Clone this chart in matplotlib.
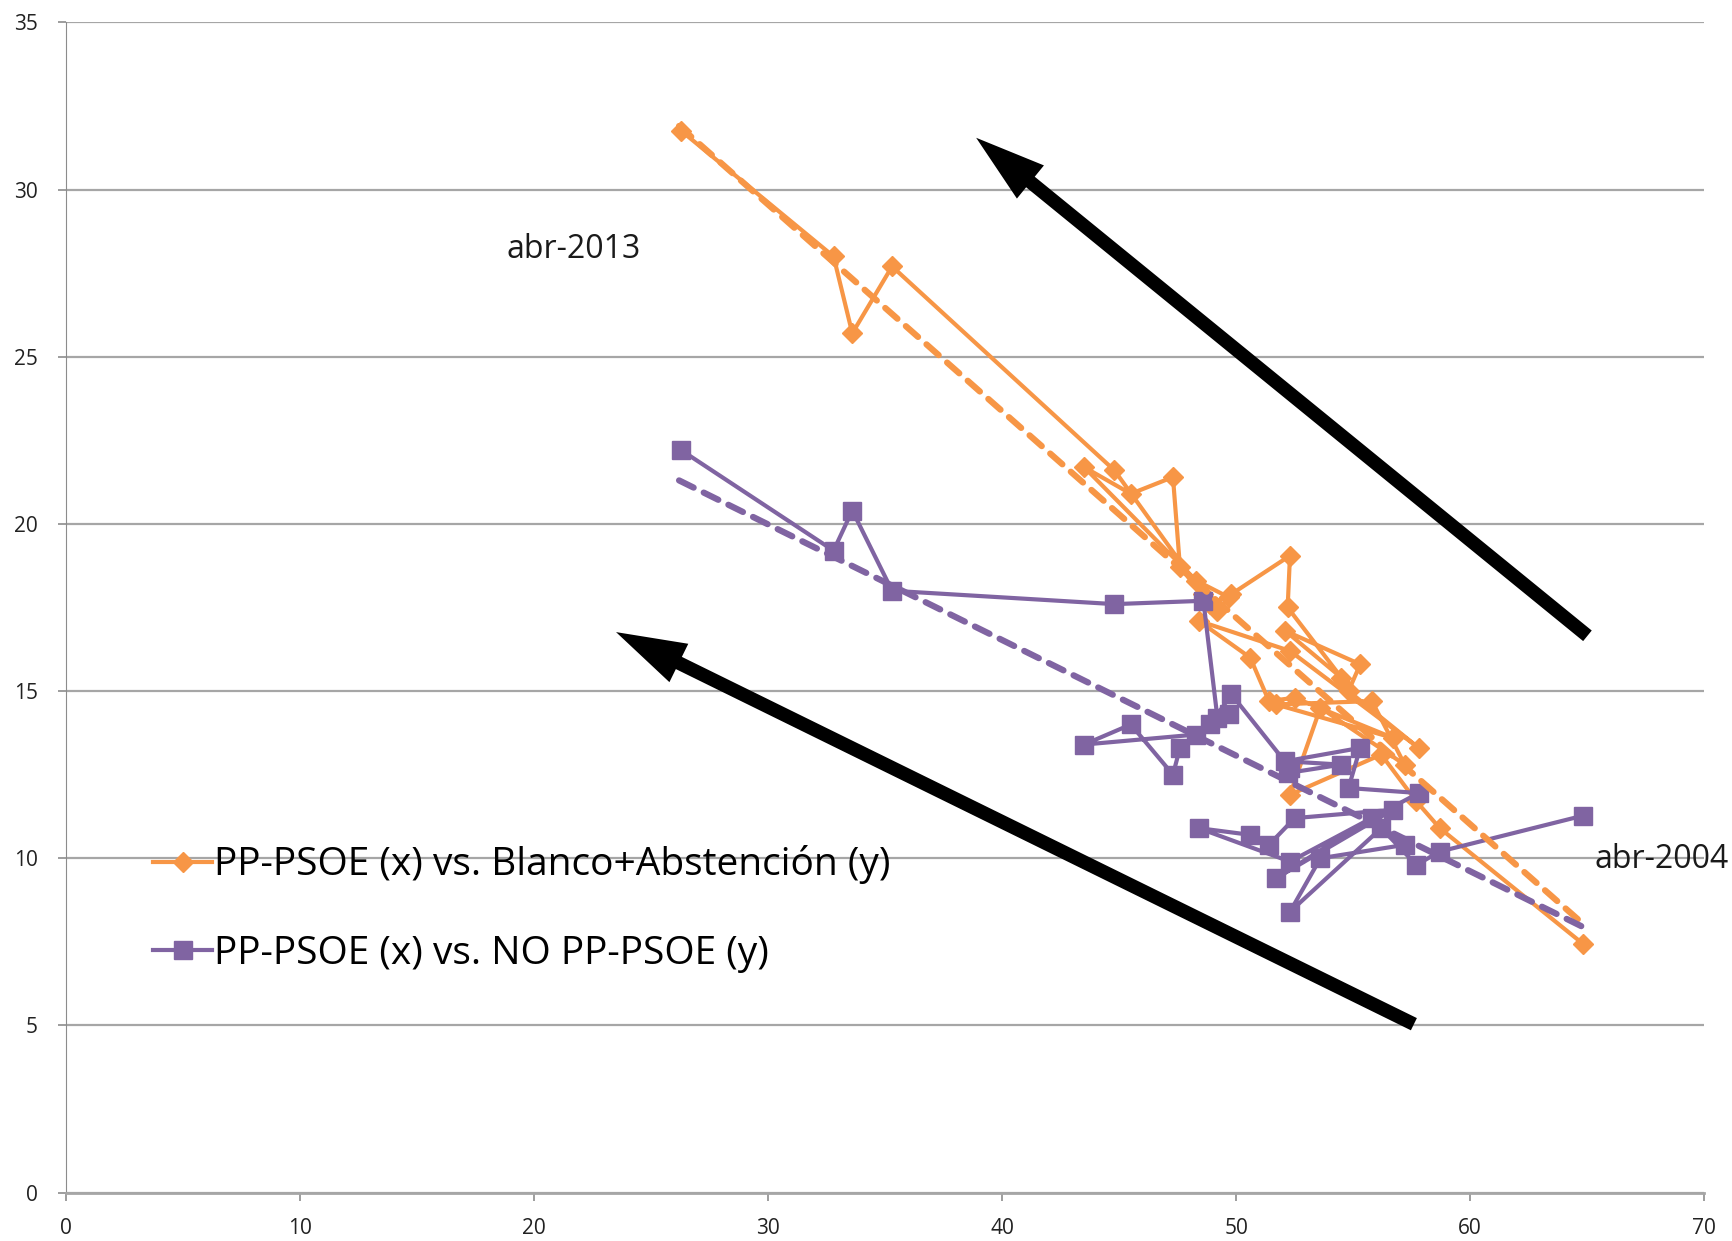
import numpy as np
import matplotlib.pyplot as plt
from matplotlib.patches import FancyArrowPatch

# quarterly polls, abr-2004 ... abr-2013
pp_psoe = [64.8, 58.7, 57.7, 56.2, 52.3, 53.6, 57.2, 55.8, 51.7, 56.7,
           52.5, 51.4, 50.6, 48.4, 52.3, 57.8, 54.8, 55.3, 52.1, 54.5,
           52.2, 52.3, 49.8, 48.9, 47.6, 47.3, 45.5, 43.5, 48.3, 49.7,
           49.2, 48.6, 44.8, 35.3, 33.6, 32.8, 26.3]
blanco_abst = [7.45, 10.9, 11.7, 13.1, 11.9, 14.5, 12.8, 14.7, 14.6, 13.6,
               14.8, 14.7, 16.0, 17.1, 16.2, 13.3, 15.0, 15.8, 16.8, 15.4,
               17.5, 19.05, 17.9, 17.6, 18.7, 21.4, 20.9, 21.7, 18.3, 17.8,
               17.4, 17.9, 21.6, 27.7, 25.7, 28.0, 31.75]
no_pp_psoe = [11.27, 10.2, 9.8, 10.9, 8.4, 10.0, 10.4, 11.2, 9.4, 11.45,
              11.2, 10.4, 10.7, 10.9, 9.9, 11.95, 12.1, 13.3, 12.9, 12.8,
              12.55, 12.7, 14.9, 14.0, 13.3, 12.5, 14.0, 13.4, 13.7, 14.3,
              14.2, 17.7, 17.6, 18.0, 20.4, 19.2, 22.2]

# linear trend lines (end points)
trend_x = [26.2, 64.8]
trend_orange = [31.9, 8.05]
trend_purple = [21.3, 7.95]

# arrows (tail -> head) in data units
arrow_up = [(65.1, 16.6), (38.8, 31.6)]
arrow_low = [(57.7, 5.0), (23.4, 16.8)]

ORANGE = "#F79646"
PURPLE = "#8064A2"

plt.rcParams['font.family'] = ['Open Sans', 'DejaVu Sans']

fig = plt.figure(figsize=(17.32, 12.41), dpi=100)
ax = fig.add_axes([0.038, 0.039, 0.946, 0.943])

ax.plot(pp_psoe, blanco_abst, color=ORANGE, lw=3.0, marker="D", ms=10,
        label="PP-PSOE (x) vs. Blanco+Abstención (y)", zorder=3)
ax.plot(pp_psoe, no_pp_psoe, color=PURPLE, lw=3.0, marker="s", ms=13.5,
        label="PP-PSOE (x) vs. NO PP-PSOE (y)", zorder=4)
ax.plot(trend_x, trend_orange, color=ORANGE, lw=4.5, ls=(0, (2.6, 1.8)),
        dash_capstyle="round", zorder=5)
ax.plot(trend_x, trend_purple, color=PURPLE, lw=4.5, ls=(0, (2.6, 1.8)),
        dash_capstyle="round", zorder=5)

for tail, head in (arrow_up, arrow_low):
    arr = FancyArrowPatch(tail, head,
                          arrowstyle="simple,head_width=2.2,head_length=3.6,tail_width=0.7",
                          mutation_scale=14, color="black", lw=0, zorder=6)
    ax.add_patch(arr)

ax.text(21.7, 28.2, "abr-2013", fontsize=23, ha="center", va="center", color="#1a1a1a")
ax.text(65.3, 9.95, "abr-2004", fontsize=23, ha="left", va="center", color="#1a1a1a",
        clip_on=False)

ax.set_xlim(0, 70)
ax.set_ylim(0, 35)
ax.set_xticks(np.arange(0, 71, 10))
ax.set_yticks(np.arange(0, 36, 5))
ax.yaxis.grid(True, color="#A6A6A6", lw=1.6)
ax.set_axisbelow(True)
for s in ("top", "right"):
    ax.spines[s].set_visible(False)
ax.spines["left"].set_color("#8C8C8C")
ax.spines["bottom"].set_color("#A6A6A6")
ax.spines["bottom"].set_linewidth(2)
ax.tick_params(axis="both", colors="#8C8C8C", labelcolor="#222222", labelsize=15,
               length=6, width=1.2)
ax.tick_params(axis="x", pad=12)
ax.tick_params(axis="y", pad=14)

ax.legend(loc="upper left", bbox_to_anchor=(0.044, 0.31), frameon=False,
          fontsize=28, handlelength=1.5, handletextpad=0.05, labelspacing=1.3,
          borderaxespad=0)

fig.savefig("out.png", dpi=100)
